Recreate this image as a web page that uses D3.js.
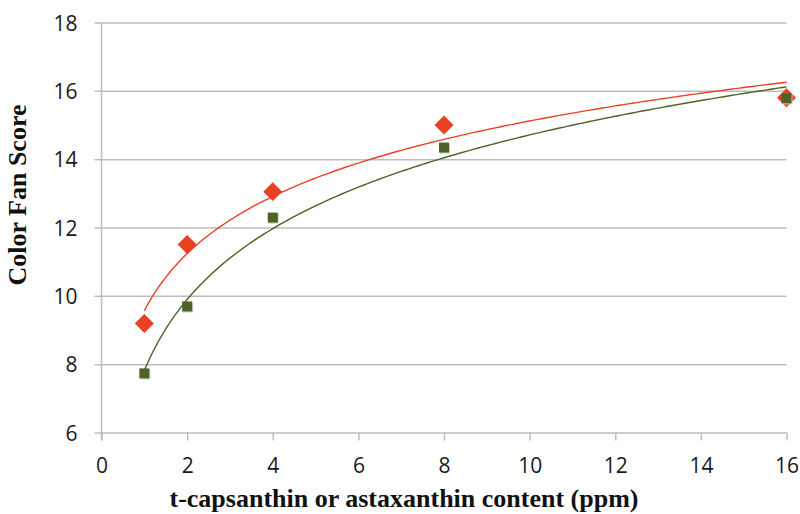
<!doctype html>
<html lang="en">
<head>
  <meta charset="utf-8">
  <title>Color Fan Score</title>
  <style>
    body { margin: 0; background: #fff; }
    .tick text { font-family: "Open Sans", Lato, sans-serif; font-size: 21px; fill: #1a1a1a; }
    .axis-title { font-family: "Liberation Serif", "Times New Roman", serif; font-weight: bold; font-size: 26px; fill: #111; }
  </style>
</head>
<body>
  <div id="chart"></div>
  <script src="https://cdnjs.cloudflare.com/ajax/libs/d3/7.8.5/d3.min.js"></script>
  <script>
(function() {

  var doses = [1, 2, 4, 8, 16];
  var capsanthin = [9.19, 11.5, 13.05, 15.0, 15.8];
  var astaxanthin = [7.73, 9.69, 12.29, 14.34, 15.78];
  var xTicks = [0, 2, 4, 6, 8, 10, 12, 14, 16];
  var yTicks = [6, 8, 10, 12, 14, 16, 18];

  var width = 800, height = 514;
  var left = 101.5, right = 786.5, top = 22.5, bottom = 432.5;

  var x = d3.scaleLinear().domain([0, 16]).range([left, right]);
  var y = d3.scaleLinear().domain([6, 18]).range([bottom, top]);

  var svg = d3.select("#chart").append("svg")
      .attr("width", width)
      .attr("height", height);

  // horizontal gridlines + y ticks
  var yAxis = svg.append("g")
      .attr("transform", "translate(" + left + ",0)")
      .call(d3.axisLeft(y).tickValues(yTicks).tickSize(7).tickPadding(17)
        .tickFormat(d3.format("d")));
  yAxis.select(".domain").remove();
  yAxis.selectAll(".tick line").attr("stroke", "#bdbdbd").attr("stroke-width", 1.5)
      .attr("x1", -7).attr("x2", right - left);
  yAxis.selectAll(".tick text").attr("dy", "0.36em");

  var xAxis = svg.append("g")
      .attr("transform", "translate(0," + bottom + ")")
      .call(d3.axisBottom(x).tickValues(xTicks).tickSize(8)
        .tickFormat(d3.format("d")));
  xAxis.select(".domain").remove();
  xAxis.selectAll(".tick line").attr("stroke", "#bdbdbd").attr("stroke-width", 1.5);
  xAxis.selectAll(".tick text").attr("y", 40.5).attr("dy", null);

  // vertical axis line
  svg.append("line")
      .attr("x1", left).attr("x2", left)
      .attr("y1", top).attr("y2", bottom + 8)
      .attr("stroke", "#bdbdbd").attr("stroke-width", 1.5);

  // logarithmic trendline, least squares on ln(x)
  function logFit(xs, ys) {
    var lx = xs.map(Math.log);
    var mx = d3.mean(lx), my = d3.mean(ys);
    var sxy = d3.sum(lx, function(v, i) { return (v - mx) * (ys[i] - my); });
    var sxx = d3.sum(lx, function(v) { return (v - mx) * (v - mx); });
    var b = sxy / sxx;
    var a = my - b * mx;
    return function(v) { return a + b * Math.log(v); };
  }

  var samples = d3.range(0, 151).map(function(i) { return 1 + i * 0.1; });
  var line = d3.line()
      .x(function(d) { return x(d[0]); })
      .y(function(d) { return y(d[1]); });

  var fitRed = logFit(doses, capsanthin);
  var fitGreen = logFit(doses, astaxanthin);

  svg.append("path")
      .datum(samples.map(function(v) { return [v, fitGreen(v)]; }))
      .attr("d", line)
      .attr("fill", "none")
      .attr("stroke", "#4f6228")
      .attr("stroke-width", 1.4);

  svg.append("path")
      .datum(samples.map(function(v) { return [v, fitRed(v)]; }))
      .attr("d", line)
      .attr("fill", "none")
      .attr("stroke", "#e8402a")
      .attr("stroke-width", 1.4);

  // red diamonds
  svg.selectAll(".diamond")
      .data(doses)
    .enter().append("path")
      .attr("class", "diamond")
      .attr("d", d3.symbol().type(d3.symbolSquare).size(180))
      .attr("transform", function(d, i) {
        return "translate(" + x(d) + "," + y(capsanthin[i]) + ") rotate(45)";
      })
      .attr("fill", "#e84122");

  // green squares
  svg.selectAll(".square-shadow")
      .data(doses)
    .enter().append("rect")
      .attr("x", function(d) { return x(d) - 4; })
      .attr("y", function(d, i) { return y(astaxanthin[i]) - 4; })
      .attr("width", 10).attr("height", 10)
      .attr("fill", "#c8cfb8");

  svg.selectAll(".square")
      .data(doses)
    .enter().append("rect")
      .attr("class", "square")
      .attr("x", function(d) { return x(d) - 5; })
      .attr("y", function(d, i) { return y(astaxanthin[i]) - 5; })
      .attr("width", 10).attr("height", 10)
      .attr("fill", "#4f6228");

  // axis titles
  svg.append("text")
      .attr("class", "axis-title")
      .attr("x", 404)
      .attr("y", 507)
      .attr("text-anchor", "middle")
      .text("t-capsanthin or astaxanthin content (ppm)");

  svg.append("text")
      .attr("class", "axis-title")
      .attr("transform", "translate(26,195) rotate(-90)")
      .attr("text-anchor", "middle")
      .text("Color Fan Score");

})();
  </script>
</body>
</html>
